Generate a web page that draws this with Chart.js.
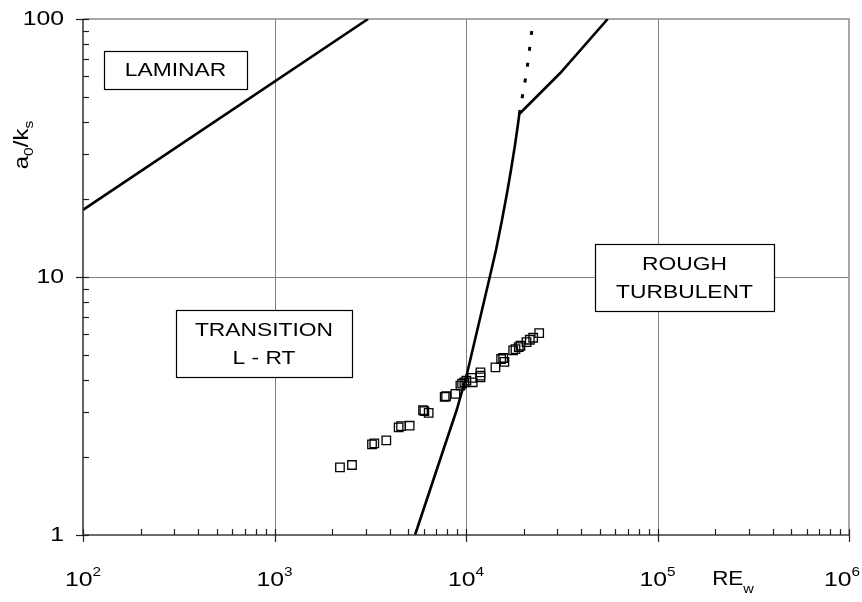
<!DOCTYPE html>
<html>
<head>
<meta charset="utf-8">
<script src="https://cdn.jsdelivr.net/npm/chart.js@4.4.1/dist/chart.umd.min.js"></script>
<style>
  html, body { margin: 0; padding: 0; background: #ffffff; }
  #wrap { width: 862px; height: 602px; }
</style>
</head>
<body>
<div id="wrap"><canvas id="chart" width="862" height="602"></canvas></div>
<script>
// Laminar limit line [RE_w, a0/ks]
const laminarLine = [[100, 18.2], [3080, 100]];

// Laminar / rough-turbulent transition curve [RE_w, a0/ks]
const transitionCurve = [
  [5418, 1.0], [6486, 1.494], [7610, 2.135], [8942, 3.051], [10085, 4.172],
  [12122, 7.45], [13345, 10.09], [14344, 12.73], [15418, 16.63], [16375, 21.17],
  [17178, 25.98], [18026, 32.48], [18688, 39.18], [18983, 42.84],
  [30970, 61.6], [54960, 100]
];

// Dotted continuation above the kink [RE_w, a0/ks]
const transitionDotted = [[18983, 42.84], [20750, 62.5], [22460, 100]];

// Measured points
const measuredRe = [
  2197, 2539, 3230, 3320, 3836, 4449, 4579, 5078, 5967, 6061, 6383,
  7740, 7871, 8803, 9348, 9541, 9808, 10048, 10762, 10839, 11893, 11893,
  11893, 14246, 15255, 15630, 15873, 17632, 18126, 18862, 19252, 20690,
  21528, 22428, 24110
];
const measuredRatio = [
  1.83, 1.868, 2.245, 2.266, 2.327, 2.612, 2.642, 2.652, 3.046, 3.019, 2.976,
  3.432, 3.45, 3.525, 3.795, 3.863, 3.908, 3.968, 4.064, 3.908, 4.271, 4.148,
  4.085, 4.465, 4.811, 4.854, 4.685, 5.192, 5.257, 5.352, 5.414, 5.596,
  5.712, 5.815, 6.063
];

// Axis decades and their labels
const xDecades = [100, 1000, 10000, 100000, 1000000];
const xExponents = ['2', '3', '4', '5', '6'];
const yDecades = [1, 10, 100];
const yTickLabels = ['1', '10', '100'];

// Region names
const regionNames = [['LAMINAR'], ['TRANSITION', 'L - RT'], ['ROUGH', 'TURBULENT']];

// Where each region box sits (data coords of its centre) and its size in px
const regionLayout = [
  { re: 304, ratio: 63.4, w: 143, h: 38 },
  { re: 881, ratio: 5.52, w: 176, h: 67 },
  { re: 138400, ratio: 9.96, w: 179, h: 67 }
];

const FONT = '"Liberation Sans", Arial, sans-serif';

// Measures a run of text pieces [{t, size, dy}] stretched horizontally by sx
function runsWidth(ctx, runs, sx) {
  let total = 0;
  runs.forEach(r => {
    ctx.font = r.size + 'px ' + FONT;
    r.w = ctx.measureText(r.t).width * sx;
    total += r.w;
  });
  return total;
}

// Draws a run of text pieces, aligned on x, vertically centred on y
function drawRuns(ctx, runs, x, y, sx, align, maxRight) {
  const total = runsWidth(ctx, runs, sx);
  let cx = align === 'center' ? x - total / 2 : align === 'right' ? x - total : x;
  if (maxRight !== undefined && cx + total > maxRight) cx = maxRight - total;
  ctx.textAlign = 'left';
  ctx.textBaseline = 'middle';
  runs.forEach(r => {
    ctx.font = r.size + 'px ' + FONT;
    ctx.save();
    ctx.translate(cx, y + (r.dy || 0));
    ctx.scale(sx, 1);
    ctx.fillText(r.t, 0, 0);
    ctx.restore();
    cx += r.w;
  });
}

const framePlugin = {
  id: 'frame',
  beforeDatasetsDraw(chart) {
    const ctx = chart.ctx, xs = chart.scales.x, ys = chart.scales.y;
    const a = chart.chartArea;
    ctx.save();
    // decade grid
    ctx.strokeStyle = '#808080';
    ctx.lineWidth = 1;
    xDecades.slice(1, -1).forEach(v => {
      const px = Math.round(xs.getPixelForValue(v)) + 0.5;
      ctx.beginPath(); ctx.moveTo(px, a.top); ctx.lineTo(px, a.bottom); ctx.stroke();
    });
    yDecades.slice(1, -1).forEach(v => {
      const py = Math.round(ys.getPixelForValue(v)) + 0.5;
      ctx.beginPath(); ctx.moveTo(a.left, py); ctx.lineTo(a.right, py); ctx.stroke();
    });
    // top and right border
    ctx.lineWidth = 1.5;
    ctx.strokeStyle = '#8c8c8c';
    ctx.beginPath();
    ctx.moveTo(a.left, a.top); ctx.lineTo(a.right, a.top); ctx.lineTo(a.right, a.bottom);
    ctx.stroke();

    // region boxes
    regionLayout.forEach((b, i) => {
      const cx = xs.getPixelForValue(b.re), cy = ys.getPixelForValue(b.ratio);
      const l = Math.round(cx - b.w / 2) + 0.5, t = Math.round(cy - b.h / 2) + 0.5;
      ctx.fillStyle = '#ffffff';
      ctx.fillRect(l, t, b.w, b.h);
      ctx.strokeStyle = '#000000';
      ctx.lineWidth = 1.2;
      ctx.strokeRect(l, t, b.w, b.h);
      ctx.fillStyle = '#000000';
      const lines = regionNames[i];
      lines.forEach((s, k) => {
        const off = (k - (lines.length - 1) / 2) * 28;
        drawRuns(ctx, [{ t: s, size: 19 }], cx, cy + off + 1, 1.2, 'center');
      });
    });
    ctx.restore();
  },
  afterDatasetsDraw(chart) {
    const ctx = chart.ctx, xs = chart.scales.x, ys = chart.scales.y;
    const a = chart.chartArea;
    ctx.save();
    // axis lines
    ctx.strokeStyle = '#3c3c3c';
    ctx.lineWidth = 1.6;
    ctx.beginPath();
    ctx.moveTo(a.left, a.top); ctx.lineTo(a.left, a.bottom); ctx.lineTo(a.right, a.bottom);
    ctx.stroke();

    // ticks
    ctx.lineWidth = 1.2;
    ctx.strokeStyle = '#202020';
    xDecades.forEach((d, i) => {
      const px = Math.round(xs.getPixelForValue(d)) + 0.5;
      ctx.beginPath(); ctx.moveTo(px, a.bottom - 6); ctx.lineTo(px, a.bottom + 7); ctx.stroke();
      if (i < xDecades.length - 1) {
        for (let k = 2; k <= 9; k++) {
          const mx = Math.round(xs.getPixelForValue(k * d)) + 0.5;
          ctx.beginPath(); ctx.moveTo(mx, a.bottom); ctx.lineTo(mx, a.bottom - 6); ctx.stroke();
        }
      }
    });
    yDecades.forEach((d, i) => {
      const py = Math.round(ys.getPixelForValue(d)) + 0.5;
      ctx.beginPath(); ctx.moveTo(a.left - 7, py); ctx.lineTo(a.left + 6, py); ctx.stroke();
      if (i < yDecades.length - 1) {
        for (let k = 2; k <= 9; k++) {
          const my = Math.round(ys.getPixelForValue(k * d)) + 0.5;
          ctx.beginPath(); ctx.moveTo(a.left, my); ctx.lineTo(a.left + 6, my); ctx.stroke();
        }
      }
    });

    // tick labels
    ctx.fillStyle = '#000000';
    xDecades.forEach((d, i) => {
      const px = xs.getPixelForValue(d);
      drawRuns(ctx, [{ t: '10', size: 21 }, { t: xExponents[i], size: 13, dy: -8 }],
        px, a.bottom + 45, 1.18, 'center', chart.width - 2);
    });
    yDecades.forEach((d, i) => {
      const py = ys.getPixelForValue(d);
      drawRuns(ctx, [{ t: yTickLabels[i], size: 21 }], a.left - 19, py, 1.18, 'right');
    });

    // axis titles
    drawRuns(ctx, [{ t: 'RE', size: 20 }, { t: 'w', size: 13, dy: 10 }],
      a.right - 116, a.bottom + 44, 1.12, 'center');
    ctx.save();
    ctx.translate(26, 145);
    ctx.rotate(-Math.PI / 2);
    drawRuns(ctx, [{ t: 'a', size: 20 }, { t: '0', size: 13, dy: 7 }, { t: '/k', size: 20 },
      { t: 's', size: 13, dy: 7 }], 0, -4, 1.2, 'center');
    ctx.restore();
    ctx.restore();
  }
};

const toXY = arr => arr.map(p => ({ x: p[0], y: p[1] }));

new Chart(document.getElementById('chart'), {
  type: 'scatter',
  data: {
    datasets: [
      {
        data: toXY(laminarLine), showLine: true, pointRadius: 0,
        borderColor: '#000000', borderWidth: 2.6
      },
      {
        data: toXY(transitionCurve), showLine: true, pointRadius: 0,
        borderColor: '#000000', borderWidth: 2.6, tension: 0, borderJoinStyle: 'round'
      },
      {
        data: toXY(transitionDotted), showLine: true, pointRadius: 0,
        borderColor: '#000000', borderWidth: 3, borderDash: [4, 12]
      },
      {
        data: measuredRe.map((x, i) => ({ x, y: measuredRatio[i] })),
        showLine: false, pointStyle: 'rect', pointRadius: 6,
        backgroundColor: 'rgba(0,0,0,0)', borderColor: '#000000', borderWidth: 1.3
      }
    ]
  },
  options: {
    responsive: false,
    animation: false,
    devicePixelRatio: 1,
    layout: { padding: { left: 83, right: 13, top: 19, bottom: 67 } },
    scales: {
      x: { type: 'logarithmic', min: 100, max: 1000000, display: false },
      y: { type: 'logarithmic', min: 1, max: 100, display: false }
    },
    plugins: { legend: { display: false }, tooltip: { enabled: false } }
  },
  plugins: [framePlugin]
});
</script>
</body>
</html>
